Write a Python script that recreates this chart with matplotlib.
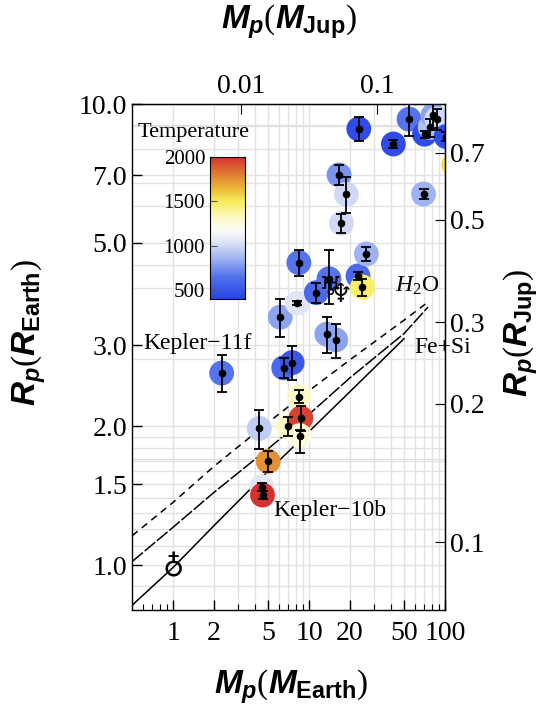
import numpy as np
import matplotlib
matplotlib.use("Agg")
import matplotlib.pyplot as plt
from matplotlib.colors import LinearSegmentedColormap, Normalize
from matplotlib.ticker import FixedLocator, FixedFormatter, NullFormatter

plt.rcParams['font.family'] = ['Liberation Serif', 'DejaVu Serif']
plt.rcParams['mathtext.fontset'] = 'custom'
plt.rcParams['mathtext.it'] = 'Liberation Sans:italic:bold'
plt.rcParams['mathtext.bf'] = 'Liberation Sans:bold'
plt.rcParams['mathtext.rm'] = 'Liberation Serif'
plt.rcParams['mathtext.sf'] = 'Liberation Serif:italic'

# ---- data (mass in Earth masses, radius in Earth radii, temperature K)
mass = [2.27, 6.13, 6.5, 7.5, 4.3, 5.0, 4.48, 4.54, 7.0, 8.4, 8.7, 8.5,
        8.2, 8.4, 11.3, 14.0, 22.9, 24.7, 26.4, 13.5, 15.7, 16.6, 18.8, 17.3,
        23.2, 41.7, 54.4, 70.7, 77.8, 81.5, 87.0, 102.0, 69.5, 116.0]
radius = [2.61, 3.45, 2.68, 2.75, 1.98, 1.68, 1.48, 1.42, 2.00, 2.32, 2.085, 1.91,
          3.70, 4.53, 3.90, 4.18, 4.24, 4.01, 4.73, 3.17, 3.08, 7.02, 6.37, 5.51,
          8.83, 8.19, 9.27, 8.60, 8.90, 9.45, 9.27, 8.50, 6.38, 7.38]
err_lo = [0.24, 0.33, 0.13, 0.23, 0.19, 0.09, 0.03, 0.03, 0.095, 0.075, 0.13, 0.16,
          0.04, 0.30, 0.19, 0.50, 0.08, 0.17, 0.16, 0.29, 0.26, 0.34, 0.58, 0.27,
          0.52, 0.15, 0.75, 0.15, 0.40, 0.60, 0.50, 0.20, 0.15, 0.20]
err_hi = [0.25, 0.32, 0.13, 0.24, 0.19, 0.09, 0.03, 0.03, 0.095, 0.075, 0.13, 0.05,
          0.04, 0.30, 0.19, 0.65, 0.08, 0.17, 0.16, 0.29, 0.26, 0.34, 0.58, 0.27,
          0.52, 0.15, 0.75, 0.15, 0.40, 0.60, 0.50, 0.20, 0.15, 0.20]
temperature = [650, 800, 600, 500, 950, 1750, 1050, 2050, 1300, 1300, 1950, 1250,
               1050, 650, 600, 650, 600, 1480, 850, 800, 800, 750, 1000, 1000,
               450, 450, 650, 450, 900, 800, 1000, 450, 850, 1550]

# model curves
fesi_m = [0.5, 1, 2, 5, 10, 20, 50]
fesi_r = [0.82, 0.99, 1.22, 1.60, 1.95, 2.38, 3.10]
mid_m = [0.5, 1, 2, 5, 8.4, 20, 50, 75]
mid_r = [1.02, 1.21, 1.44, 1.79, 2.03, 2.55, 3.18, 3.63]
h2o_m = [0.5, 1, 2, 5, 8.4, 20, 50, 74]
h2o_r = [1.16, 1.37, 1.64, 2.04, 2.30, 2.79, 3.40, 3.71]

# solar system
earth = (1.0, 0.985)
uranus = (14.5, 4.0)
neptune = (17.1, 3.86)

x_ticks = [1, 2, 5, 10, 20, 50, 100]
y_ticks = [1.0, 1.5, 2.0, 3.0, 5.0, 7.0, 10.0]
top_ticks = [0.01, 0.1]
right_ticks = [0.1, 0.2, 0.3, 0.5, 0.7]
cbar_ticks = [500, 1000, 1500, 2000]

MJ = 317.8
RJ = 11.21

# ---- figure
fig = plt.figure(figsize=(5.49, 7.06), dpi=100)
ax = fig.add_axes([132/549, 1-610/706, 313/549, 506/706])
ax.set_xscale('log'); ax.set_yscale('log')
ax.set_xlim(0.497, 100); ax.set_ylim(0.8, 10)

gc = '#e2e2e2'
for v in list(range(1, 10)) + list(range(10, 101, 10)):
    ax.axvline(v, color=gc, lw=1, zorder=0)
for v in [0.9] + list(np.arange(1.0, 2.0, 0.1)) + list(range(2, 11)):
    ax.axhline(v, color=gc, lw=1, zorder=0)
for v in [0.15, 0.25, 0.4, 0.6, 0.8]:
    ax.axhline(v*RJ, color=gc, lw=1, zorder=0)

colors = [(400, (0.15, 0.26, 0.92)), (650, (0.33, 0.45, 0.92)), (850, (0.62, 0.70, 0.95)),
          (1050, (0.88, 0.90, 0.97)), (1180, (0.99, 0.99, 0.97)), (1350, (0.99, 0.97, 0.72)),
          (1500, (0.97, 0.93, 0.35)), (1650, (0.93, 0.72, 0.22)), (1800, (0.88, 0.50, 0.20)),
          (2000, (0.84, 0.19, 0.19))]
cmap = LinearSegmentedColormap.from_list('temp', [((t-400)/1600, c) for t, c in colors])
norm = Normalize(400, 2000)

ax.scatter(mass, radius, s=320, c=temperature, cmap=cmap, norm=norm,
           edgecolors='none', zorder=2)
ax.errorbar(mass, radius, yerr=[err_lo, err_hi], fmt='o', color='k', ms=4.5,
            capsize=3.3, elinewidth=1.3, capthick=1.3, zorder=3)

ax.plot(fesi_m, fesi_r, color='k', lw=1.1, zorder=1)
ax.plot(mid_m, mid_r, color='k', lw=1.1, dashes=(9, 1.5), zorder=1)
ax.plot(h2o_m, h2o_r, color='k', lw=1.1, dashes=(4.5, 3.5), zorder=1)

ax.text(earth[0], earth[1], '\u2641', family='DejaVu Sans', fontsize=21,
        ha='center', va='center', zorder=4)
ax.text(uranus[0], uranus[1], '\u2645', family='DejaVu Sans', fontsize=19,
        ha='center', va='center', zorder=4)
ax.text(neptune[0], neptune[1], '\u2646', family='DejaVu Sans', fontsize=19,
        ha='center', va='center', zorder=4)

ax.text(0.6, 3.03, 'Kepler\u221211f', fontsize=17, va='center', ha='left')
ax.text(5.41, 1.316, 'Kepler\u221210b', fontsize=17, va='center', ha='left')
ax.text(42.5, 4.05, r'$\mathsf{H}_{2}\mathrm{O}$', fontsize=17, va='center', ha='left')
ax.text(59, 2.97, 'Fe+Si', fontsize=17, va='center', ha='left', clip_on=False)

ax.xaxis.set_major_locator(FixedLocator(x_ticks))
ax.xaxis.set_major_formatter(FixedFormatter([str(v) for v in x_ticks]))
ax.xaxis.set_minor_formatter(NullFormatter())
ax.yaxis.set_major_locator(FixedLocator(y_ticks))
ax.yaxis.set_major_formatter(FixedFormatter(['%.1f' % v for v in y_ticks]))
ax.yaxis.set_minor_locator(FixedLocator([]))
ax.tick_params(which='both', direction='in', labelsize=20, top=False, right=False)
ax.tick_params(which='major', length=7, width=1)
ax.tick_params(which='minor', length=4, width=0.8)
ax.tick_params(axis='x', which='major', pad=8)

secx = ax.secondary_xaxis('top', functions=(lambda m: m/MJ, lambda j: j*MJ))
secx.set_xscale('log')
secx.xaxis.set_major_locator(FixedLocator(top_ticks))
secx.xaxis.set_major_formatter(FixedFormatter(['0.01', '0.1']))
secx.xaxis.set_minor_locator(FixedLocator([]))
secx.tick_params(which='both', direction='in', labelsize=20, length=7)

secy = ax.secondary_yaxis('right', functions=(lambda r: r/RJ, lambda j: j*RJ))
secy.set_yscale('log')
secy.yaxis.set_major_locator(FixedLocator(right_ticks))
secy.yaxis.set_major_formatter(FixedFormatter([str(v) for v in right_ticks]))
secy.yaxis.set_minor_locator(FixedLocator([]))
secy.tick_params(which='both', direction='in', labelsize=20, length=7)

for sp in ax.spines.values():
    sp.set_linewidth(1)

fig.text(289/549, 1-22/706, r'$M_p(M_{\mathbf{Jup}})$', fontsize=24, ha='center', va='center')
fig.text(291/549, 1-687/706, r'$M_p(M_{\mathbf{Earth}})$', fontsize=24, ha='center', va='center')
fig.text(29/549, 1-333/706, r'$R_p(R_{\mathbf{Earth}})$', fontsize=24, ha='center', va='center', rotation=90)
fig.text(521/549, 1-333/706, r'$R_p(R_{\mathbf{Jup}})$', fontsize=24, ha='center', va='center', rotation=90)

# colorbar
cax = fig.add_axes([210/549, 1-299/706, 35/549, 142/706])
grad = np.linspace(400, 2000, 256).reshape(-1, 1)
cax.imshow(grad, aspect='auto', cmap=cmap, norm=norm, origin='lower',
           extent=[0, 1, 400, 2000])
cax.set_xticks([])
cax.set_yticks(cbar_ticks)
cax.tick_params(axis='y', direction='in', labelsize=15, length=5, color='#555555')
fig.text(138/549, 1-132/706, 'Temperature', fontsize=16, ha='left', va='center')

fig.savefig('out.png', dpi=100)
